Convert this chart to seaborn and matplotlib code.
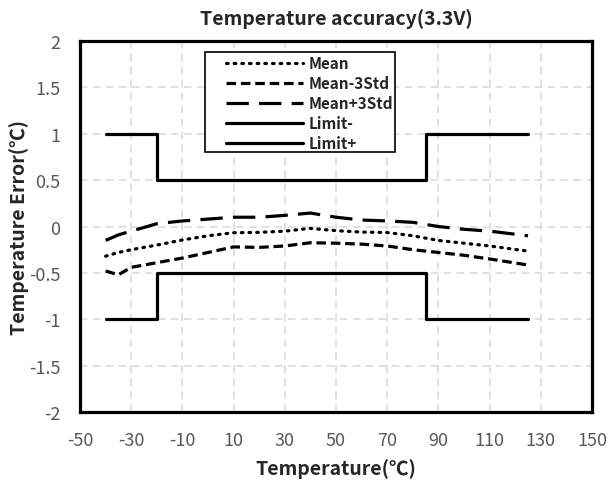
import pandas as pd
import seaborn as sns
import matplotlib.pyplot as plt
from matplotlib.patches import Rectangle

temps = [-40, -35, -30, -20, -10, 0, 10, 20, 30, 40, 50, 60, 70, 80, 90, 100, 110, 125]
mean = [-0.32, -0.28, -0.25, -0.20, -0.145, -0.10, -0.067, -0.063, -0.05, -0.02,
        -0.045, -0.06, -0.065, -0.10, -0.15, -0.18, -0.21, -0.265]
mean_minus_3std = [-0.48, -0.52, -0.44, -0.39, -0.34, -0.28, -0.22, -0.225, -0.21, -0.175,
                   -0.18, -0.19, -0.21, -0.25, -0.28, -0.31, -0.35, -0.415]
mean_plus_3std = [-0.15, -0.09, -0.05, 0.03, 0.06, 0.08, 0.10, 0.10, 0.12, 0.145,
                  0.10, 0.07, 0.06, 0.045, 0.0, -0.03, -0.05, -0.10]

# Limit lines (step shaped)
limit_temps = [-40, -20, -20, 85, 85, 125]
limit_minus = [-1, -1, -0.5, -0.5, -1, -1]
limit_plus = [1, 1, 0.5, 0.5, 1, 1]

x_ticks = list(range(-50, 151, 20))
y_ticks = [-2, -1.5, -1, -0.5, 0, 0.5, 1, 1.5, 2]

sns.set_style("white")
plt.rcParams['font.family'] = ['Noto Sans CJK SC', 'DejaVu Sans']
plt.rcParams['axes.unicode_minus'] = False

fig = plt.figure(figsize=(6.08, 4.89), dpi=100)
ax = fig.add_axes([0.1316, 0.1554, 0.8421, 0.7587])

lw = 2.3
series = [
    ("Mean", temps, mean, (0, (0.5, 1.9))),
    ("Mean-3Std", temps, mean_minus_3std, (0, (3.0, 1.5))),
    ("Mean+3Std", temps, mean_plus_3std, (0, (7.0, 3.2))),
    ("Limit-", limit_temps, limit_minus, '-'),
    ("Limit+", limit_temps, limit_plus, '-'),
]
for name, xs, ys, ls in series:
    df = pd.DataFrame({'x': xs, 'y': ys})
    sns.lineplot(data=df, x='x', y='y', ax=ax, sort=False, estimator=None,
                 color='black', linewidth=lw, label=name)
    l = ax.lines[-1]
    l.set_linestyle(ls)
    if name == "Mean":
        l.set_dash_capstyle('round')

ax.set_xlim(-50, 150)
ax.set_ylim(-2, 2)
ax.set_xticks(x_ticks)
ax.set_yticks(y_ticks)
ax.set_yticklabels([f"{v:g}" for v in y_ticks])
ax.grid(True, color='#d9d9d9', linestyle=(0, (5, 3.5)), linewidth=1.1)
ax.tick_params(axis='both', length=0, labelsize=13, colors='#595959')
ax.tick_params(axis='x', pad=14)
ax.tick_params(axis='y', pad=14)
for s in ax.spines.values():
    s.set_color('black')
    s.set_linewidth(2.3)

ax.set_title("Temperature accuracy(3.3V)", fontsize=14, fontweight='bold', pad=12)
ax.set_xlabel("Temperature(℃)", fontsize=14, fontweight='bold', labelpad=6)
ax.set_ylabel("Temperature Error(℃)", fontsize=14, fontweight='bold', labelpad=0)

# legend box (Excel style: wide left margin, tight rows)
ax.add_patch(Rectangle((0.244, 0.701), 0.371, 0.269, transform=ax.transAxes,
                       facecolor='white', edgecolor='black', linewidth=1.2, zorder=4))
leg = ax.legend(loc='upper left', bbox_to_anchor=(0.286, 0.962), handlelength=5.0,
                prop={'weight': 'bold', 'size': 11}, frameon=False,
                borderpad=0.0, labelspacing=0.26, handletextpad=0.35,
                borderaxespad=0.0)
leg.set_zorder(5)

fig.savefig('out.png', dpi=100)
